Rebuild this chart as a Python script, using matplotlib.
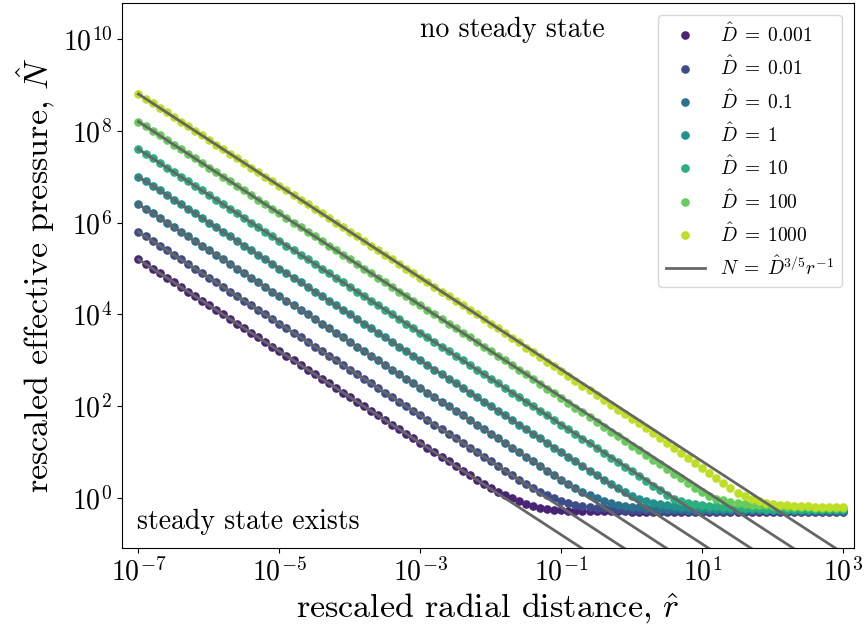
import numpy as np
import matplotlib
matplotlib.use('Agg')
import matplotlib.pyplot as plt
from matplotlib.ticker import NullLocator

plt.rcParams['font.family'] = 'serif'
plt.rcParams['font.serif'] = ['cmr10']
plt.rcParams['mathtext.fontset'] = 'cm'
plt.rcParams['axes.unicode_minus'] = False
plt.rcParams['axes.formatter.use_mathtext'] = True

# rescaled radius grid, log10 r from -7 to 3 (10 points per decade)
log_r = [-7.0 + 0.1 * k for k in range(101)]

D_values = [0.001, 0.01, 0.1, 1, 10, 100, 1000]
D_labels = ['0.001', '0.01', '0.1', '1', '10', '100', '1000']

# log10 N, one list per D
logN_D0001 = [
    5.2, 5.1, 5.0, 4.9, 4.8, 4.7, 4.6, 4.5, 4.4, 4.3,
    4.2, 4.1, 4.0, 3.9, 3.8, 3.7, 3.6, 3.5, 3.4, 3.3,
    3.2, 3.1, 3.0, 2.9, 2.8, 2.7, 2.6, 2.5, 2.4, 2.3,
    2.2, 2.1, 2.0, 1.9, 1.8, 1.7, 1.6, 1.5, 1.4, 1.3,
    1.2, 1.1, 1.0, 0.9, 0.8, 0.7, 0.6, 0.5, 0.4, 0.31,
    0.22, 0.13, 0.06, 0.0, -0.07, -0.13, -0.18, -0.21, -0.23, -0.25,
    -0.26, -0.27, -0.28, -0.28, -0.29, -0.29, -0.29, -0.29, -0.29, -0.29,
    -0.30, -0.30, -0.30, -0.30, -0.30, -0.30, -0.30, -0.30, -0.30, -0.30,
    -0.30, -0.30, -0.30, -0.30, -0.30, -0.30, -0.30, -0.30, -0.30, -0.30,
    -0.31, -0.31, -0.31, -0.31, -0.31, -0.31, -0.31, -0.31, -0.31, -0.31,
    -0.31]
logN_D001 = [
    5.8, 5.7, 5.6, 5.5, 5.4, 5.3, 5.2, 5.1, 5.0, 4.9,
    4.8, 4.7, 4.6, 4.5, 4.4, 4.3, 4.2, 4.1, 4.0, 3.9,
    3.8, 3.7, 3.6, 3.5, 3.4, 3.3, 3.2, 3.1, 3.0, 2.9,
    2.8, 2.7, 2.6, 2.5, 2.4, 2.3, 2.2, 2.1, 2.0, 1.9,
    1.8, 1.7, 1.6, 1.5, 1.4, 1.3, 1.2, 1.1, 1.0, 0.9,
    0.8, 0.7, 0.6, 0.5, 0.4, 0.31, 0.22, 0.13, 0.06, 0.0,
    -0.06, -0.11, -0.15, -0.18, -0.20, -0.21, -0.22, -0.23, -0.24, -0.25,
    -0.25, -0.26, -0.26, -0.27, -0.27, -0.27, -0.28, -0.28, -0.28, -0.28,
    -0.28, -0.28, -0.28, -0.28, -0.28, -0.29, -0.29, -0.29, -0.29, -0.29,
    -0.29, -0.29, -0.29, -0.29, -0.29, -0.29, -0.29, -0.29, -0.29, -0.29,
    -0.29]
logN_D01 = [
    6.4, 6.3, 6.2, 6.1, 6.0, 5.9, 5.8, 5.7, 5.6, 5.5,
    5.4, 5.3, 5.2, 5.1, 5.0, 4.9, 4.8, 4.7, 4.6, 4.5,
    4.4, 4.3, 4.2, 4.1, 4.0, 3.9, 3.8, 3.7, 3.6, 3.5,
    3.4, 3.3, 3.2, 3.1, 3.0, 2.9, 2.8, 2.7, 2.6, 2.5,
    2.4, 2.3, 2.2, 2.1, 2.0, 1.9, 1.8, 1.7, 1.6, 1.5,
    1.4, 1.3, 1.2, 1.1, 1.0, 0.9, 0.8, 0.7, 0.6, 0.5,
    0.4, 0.31, 0.22, 0.13, 0.06, 0.0, -0.06, -0.10, -0.14, -0.17,
    -0.19, -0.20, -0.21, -0.22, -0.23, -0.23, -0.24, -0.24, -0.25, -0.25,
    -0.25, -0.25, -0.26, -0.26, -0.26, -0.26, -0.26, -0.26, -0.26, -0.26,
    -0.26, -0.26, -0.26, -0.27, -0.27, -0.27, -0.27, -0.27, -0.27, -0.27,
    -0.27]
logN_D1 = [
    7.0, 6.9, 6.8, 6.7, 6.6, 6.5, 6.4, 6.3, 6.2, 6.1,
    6.0, 5.9, 5.8, 5.7, 5.6, 5.5, 5.4, 5.3, 5.2, 5.1,
    5.0, 4.9, 4.8, 4.7, 4.6, 4.5, 4.4, 4.3, 4.2, 4.1,
    4.0, 3.9, 3.8, 3.7, 3.6, 3.5, 3.4, 3.3, 3.2, 3.1,
    3.0, 2.9, 2.8, 2.7, 2.6, 2.5, 2.4, 2.3, 2.2, 2.1,
    2.0, 1.9, 1.8, 1.7, 1.6, 1.5, 1.4, 1.3, 1.2, 1.1,
    1.0, 0.9, 0.8, 0.7, 0.6, 0.5, 0.4, 0.31, 0.22, 0.13,
    0.05, -0.01, -0.06, -0.10, -0.13, -0.15, -0.17, -0.19, -0.20, -0.21,
    -0.22, -0.22, -0.23, -0.23, -0.24, -0.24, -0.24, -0.24, -0.24, -0.25,
    -0.25, -0.25, -0.25, -0.25, -0.25, -0.25, -0.25, -0.25, -0.25, -0.25,
    -0.25]
logN_D10 = [
    7.6, 7.5, 7.4, 7.3, 7.2, 7.1, 7.0, 6.9, 6.8, 6.7,
    6.6, 6.5, 6.4, 6.3, 6.2, 6.1, 6.0, 5.9, 5.8, 5.7,
    5.6, 5.5, 5.4, 5.3, 5.2, 5.1, 5.0, 4.9, 4.8, 4.7,
    4.6, 4.5, 4.4, 4.3, 4.2, 4.1, 4.0, 3.9, 3.8, 3.7,
    3.6, 3.5, 3.4, 3.3, 3.2, 3.1, 3.0, 2.9, 2.8, 2.7,
    2.6, 2.5, 2.4, 2.3, 2.2, 2.1, 2.0, 1.9, 1.8, 1.7,
    1.6, 1.5, 1.4, 1.29, 1.19, 1.09, 0.99, 0.88, 0.78, 0.68,
    0.58, 0.48, 0.38, 0.27, 0.17, 0.07, -0.01, -0.06, -0.10, -0.13,
    -0.15, -0.17, -0.18, -0.19, -0.20, -0.21, -0.21, -0.22, -0.22, -0.23,
    -0.23, -0.23, -0.23, -0.23, -0.23, -0.24, -0.24, -0.24, -0.24, -0.24,
    -0.24]
logN_D100 = [
    8.2, 8.1, 8.0, 7.9, 7.8, 7.7, 7.6, 7.5, 7.4, 7.3,
    7.2, 7.1, 7.0, 6.9, 6.8, 6.7, 6.6, 6.5, 6.4, 6.3,
    6.2, 6.1, 6.0, 5.9, 5.8, 5.7, 5.6, 5.5, 5.4, 5.3,
    5.2, 5.1, 5.0, 4.9, 4.8, 4.7, 4.6, 4.5, 4.4, 4.3,
    4.2, 4.1, 4.0, 3.9, 3.8, 3.7, 3.6, 3.5, 3.4, 3.3,
    3.2, 3.1, 3.0, 2.9, 2.8, 2.7, 2.59, 2.49, 2.38, 2.28,
    2.18, 2.07, 1.97, 1.87, 1.76, 1.66, 1.55, 1.45, 1.35, 1.25,
    1.14, 1.04, 0.94, 0.84, 0.74, 0.63, 0.53, 0.43, 0.32, 0.22,
    0.13, 0.05, -0.01, -0.05, -0.08, -0.10, -0.12, -0.14, -0.15, -0.16,
    -0.17, -0.18, -0.19, -0.19, -0.20, -0.20, -0.21, -0.21, -0.21, -0.22,
    -0.22]
logN_D1000 = [
    8.8, 8.7, 8.6, 8.5, 8.4, 8.3, 8.2, 8.1, 8.0, 7.9,
    7.8, 7.7, 7.6, 7.5, 7.4, 7.3, 7.2, 7.1, 7.0, 6.9,
    6.8, 6.7, 6.6, 6.5, 6.4, 6.3, 6.2, 6.1, 6.0, 5.9,
    5.8, 5.7, 5.6, 5.5, 5.4, 5.3, 5.2, 5.1, 5.0, 4.9,
    4.8, 4.7, 4.6, 4.5, 4.4, 4.3, 4.2, 4.1, 4.0, 3.9,
    3.8, 3.7, 3.59, 3.49, 3.39, 3.28, 3.18, 3.08, 2.97, 2.87,
    2.76, 2.66, 2.55, 2.45, 2.35, 2.24, 2.14, 2.03, 1.93, 1.83,
    1.73, 1.63, 1.53, 1.42, 1.32, 1.21, 1.10, 0.99, 0.88, 0.77,
    0.66, 0.55, 0.43, 0.32, 0.21, 0.12, 0.04, -0.02, -0.07, -0.10,
    -0.13, -0.15, -0.16, -0.17, -0.18, -0.18, -0.19, -0.19, -0.19, -0.20,
    -0.20]

logN_all = [logN_D0001, logN_D001, logN_D01, logN_D1, logN_D10, logN_D100, logN_D1000]

r = 10.0 ** np.array(log_r)
colors = plt.cm.viridis(np.linspace(0.1, 0.9, len(D_values)))

fig, ax = plt.subplots(figsize=(8.65, 6.29), dpi=100)
fig.subplots_adjust(left=0.141, right=0.987, top=0.995, bottom=0.129)

for D, lab, logN, c in zip(D_values, D_labels, logN_all, colors):
    ax.plot(r, 10.0 ** np.array(logN), 'o', ms=5.2, color=c, ls='none',
            label=r'$\hat{D} \;=\; ' + lab + '$', zorder=2)

# scaling law lines
for i, D in enumerate(D_values):
    ax.plot(r, D ** 0.6 / r, color='#666666', lw=2, zorder=3,
            label=r'$N \;=\; \hat{D}^{3/5} r^{-1}$' if i == 0 else None)

ax.set_xscale('log')
ax.set_yscale('log')
ax.set_xlim(10 ** -7.234, 10 ** 3.149)
ax.set_ylim(10 ** -1.083, 10 ** 10.78)
ax.set_xticks([1e-7, 1e-5, 1e-3, 1e-1, 1e1, 1e3])
ax.set_yticks([1e0, 1e2, 1e4, 1e6, 1e8, 1e10])
ax.xaxis.set_minor_locator(NullLocator())
ax.yaxis.set_minor_locator(NullLocator())
ax.tick_params(labelsize=20)

ax.set_xlabel(r'rescaled radial distance, $\hat{r}$', fontsize=24.5)
ax.set_ylabel(r'rescaled effective pressure, $\hat{N}$', fontsize=24.5)

ax.text(0.533, 0.951, 'no steady state', transform=ax.transAxes,
        ha='center', va='center', fontsize=20)
ax.text(0.02, 0.048, 'steady state exists', transform=ax.transAxes,
        ha='left', va='center', fontsize=20)

handles, labels = ax.get_legend_handles_labels()
ax.legend(handles[:8], labels[:8], loc='upper right', fontsize=14,
          borderaxespad=0.6)

plt.savefig('out.png')
